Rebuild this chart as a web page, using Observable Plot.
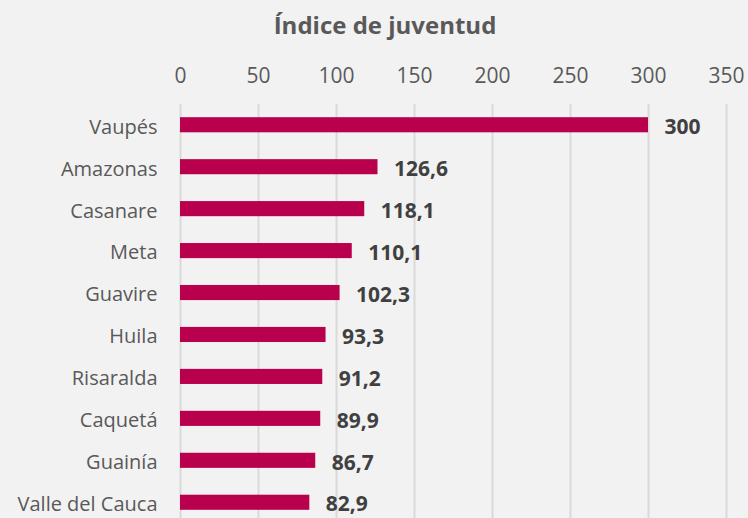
<!DOCTYPE html>
<html><head><meta charset="utf-8">
<script src="https://cdn.jsdelivr.net/npm/d3@7"></script>
<script src="https://cdn.jsdelivr.net/npm/@observablehq/plot@0.6"></script>
<style>
html,body{margin:0;padding:0;background:#F2F2F2;}
#wrap{width:748px;height:518px;background:#F2F2F2;font-family:"Open Sans",sans-serif;}
#title{height:50px;line-height:50px;text-align:center;font-weight:bold;font-size:24px;color:#595959;padding-left:22px;box-sizing:border-box;}
#chart svg{display:block;}
</style></head><body>
<div id="wrap"><div id="title">Índice de juventud</div><div id="chart"></div></div>
<script>
const departamentos = ["Vaupés","Amazonas","Casanare","Meta","Guavire","Huila","Risaralda","Caquetá","Guainía","Valle del Cauca"];
const indice = [300,126.6,118.1,110.1,102.3,93.3,91.2,89.9,86.7,82.9];
const ticks = [0,50,100,150,200,250,300,350];
const data = departamentos.map((d,i)=>({dep:d, v:indice[i]}));
const fmt = v => Number.isInteger(v) ? String(v) : v.toFixed(1).replace(".", ",");
const chart = Plot.plot({
  width:748, height:468,
  marginLeft:180, marginRight:22, marginTop:63, marginBottom:4,
  style:{background:"#F2F2F2", fontFamily:"Open Sans, sans-serif", color:"#595959"},
  x:{domain:[0,350], axis:null},
  y:{domain:departamentos, paddingInner:0.64, paddingOuter:0.1, round:false, axis:null},
  marks:[
    Plot.ruleX(ticks,{stroke:"#D9D9D9", strokeWidth:2, insetTop:-9, insetBottom:-4}),
    Plot.axisX({anchor:"top", ticks:ticks, tickSize:0, tickPadding:31, fontSize:21, fill:"#595959", label:null, tickFormat:d=>String(d)}),
    Plot.axisY({anchor:"left", tickSize:0, tickPadding:23, fontSize:20, dy:2, fill:"#595959", label:null}),
    Plot.barX(data,{x:"v", y:"dep", fill:"#B8004C"}),
    Plot.text(data,{x:"v", y:"dep", text:d=>fmt(d.v), dx:16, dy:2, textAnchor:"start", fontWeight:"bold", fontSize:21, fill:"#404040"})
  ]
});
document.getElementById("chart").appendChild(chart);
</script>
</body></html>
